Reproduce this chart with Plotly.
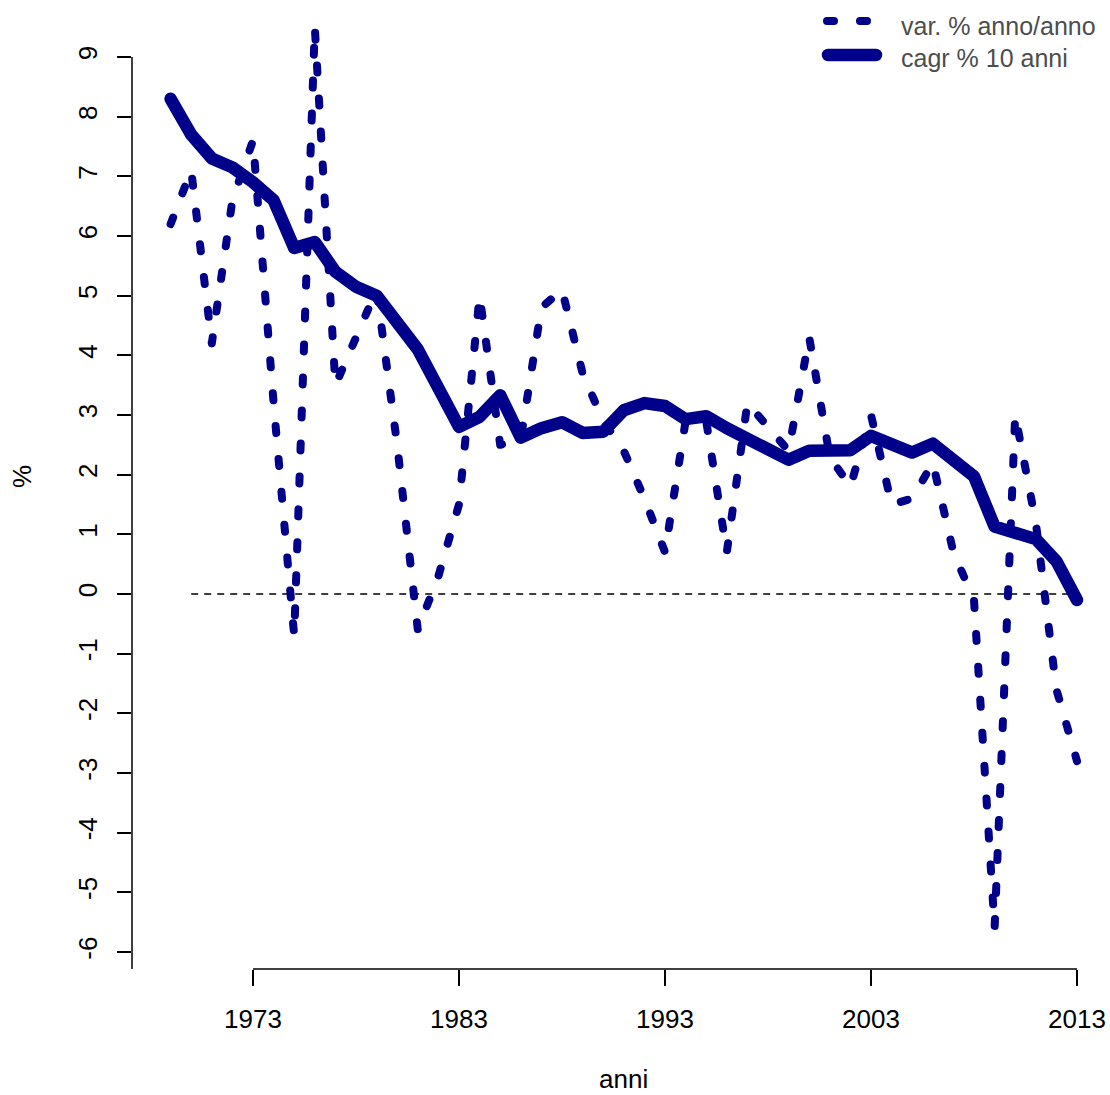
import plotly.graph_objects as go

# ---- data -----------------------------------------------------------------
years = list(range(1969, 2014))

# year-on-year % change
var_yoy = [6.2, 7.1, 4.2, 6.6, 7.6, 3.2, -0.7, 9.5, 3.5, 4.3,
           5.1, 2.5, -0.6, 0.3, 1.5, 5.0, 2.5, 2.6, 4.8, 5.1,
           3.7, 2.9, 2.4, 1.6, 0.7, 2.9, 2.9, 0.7, 3.2, 2.8,
           2.4, 4.3, 2.3, 1.8, 3.0, 1.5, 1.6, 2.2, 0.7, -0.1,
           -5.6, 3.0, 1.2, -1.6, -2.8]

# 10-year compound annual growth rate, %
cagr_10y = [8.3, 7.7, 7.3, 7.15, 6.9, 6.6, 5.8, 5.9, 5.4, 5.15,
            5.0, 4.55, 4.1, 3.45, 2.8, 2.97, 3.33, 2.62, 2.78, 2.88,
            2.7, 2.72, 3.08, 3.2, 3.15, 2.93, 2.98, 2.78, 2.6, 2.38,
            2.25, 2.4, 2.38, 2.41, 2.65, 2.52, 2.37, 2.52, 2.25, 1.97,
            1.13, 1.02, 0.92, 0.55, -0.1]

x_ticks = [1973, 1983, 1993, 2003, 2013]
y_ticks = list(range(-6, 10))
zero_line_years = [1970, 2013]

legend_labels = ["var. % anno/anno", "cagr % 10 anni"]
x_title = "anni"
y_title = "%"

# ---- geometry (pixels) ----------------------------------------------------
W, H = 1110, 1095
L, B = 132, 969            # left edge of plot, bottom edge of plot
PX_YEAR = 20.6             # pixels per year
X_REF_YEAR, X_REF_PX = 1973, 253
PX_UNIT = 59.667           # pixels per percentage point
Y_ZERO_PX = 594

x_range = [X_REF_YEAR - (X_REF_PX - L) / PX_YEAR,
           X_REF_YEAR + (W - X_REF_PX) / PX_YEAR]
y_range = [-(B - Y_ZERO_PX) / PX_UNIT, Y_ZERO_PX / PX_UNIT]


def px_x(p):
    return (p - L) / (W - L)


def px_y(p):
    return (B - p) / B


BLUE = "#00008B"
FONT = "Liberation Sans, Arial, Helvetica, sans-serif"

fig = go.Figure()

fig.add_trace(go.Scatter(
    x=years, y=var_yoy, mode="lines",
    line=dict(color=BLUE, width=8, dash="7px,26px"),
    showlegend=False, hoverinfo="skip"))

fig.add_trace(go.Scatter(
    x=years, y=cagr_10y, mode="lines",
    line=dict(color=BLUE, width=12.5),
    showlegend=False, hoverinfo="skip"))

# legend keys drawn on an overlay axis in plot-fraction units
fig.add_trace(go.Scatter(
    x=[px_x(827), px_x(880)], y=[px_y(21), px_y(21)],
    xaxis="x2", yaxis="y2", mode="lines",
    line=dict(color=BLUE, width=8, dash="7px,26px"),
    showlegend=False, hoverinfo="skip"))
fig.add_trace(go.Scatter(
    x=[px_x(828), px_x(876)], y=[px_y(55), px_y(55)],
    xaxis="x2", yaxis="y2", mode="lines",
    line=dict(color=BLUE, width=12.5),
    showlegend=False, hoverinfo="skip"))

shapes = [
    # zero reference line
    dict(type="line", xref="x", yref="y",
         x0=zero_line_years[0], x1=zero_line_years[1], y0=0, y1=0,
         line=dict(color="black", width=1.5, dash="7px,6px"), layer="below"),
    # x axis line
    dict(type="line", xref="x", yref="paper",
         x0=x_ticks[0], x1=x_ticks[-1], y0=0, y1=0,
         line=dict(color="black", width=1.5)),
    # y axis line
    dict(type="line", xref="paper", yref="y",
         x0=0, x1=0, y0=y_ticks[-1], y1=y_range[0],
         line=dict(color="black", width=1.5)),
]

annotations = [
    dict(text=x_title, xref="paper", yref="paper",
         x=px_x(623), y=px_y(1095), xanchor="center", yanchor="bottom",
         borderpad=0, showarrow=False,
         font=dict(size=26, color="black", family=FONT)),
    dict(text=y_title, xref="paper", yref="paper",
         x=px_x(22), y=px_y(477), xanchor="center", yanchor="middle",
         textangle=-90, showarrow=False,
         font=dict(size=26, color="black", family=FONT)),
    dict(text=legend_labels[0], xref="paper", yref="paper",
         x=px_x(899), y=px_y(26), xanchor="left", yanchor="middle",
         showarrow=False, font=dict(size=25, color="#4d4d4d", family=FONT)),
    dict(text=legend_labels[1], xref="paper", yref="paper",
         x=px_x(899), y=px_y(58), xanchor="left", yanchor="middle",
         showarrow=False, font=dict(size=25, color="#4d4d4d", family=FONT)),
]

fig.update_layout(
    width=W, height=H,
    margin=dict(l=L, r=0, t=0, b=H - B, pad=0),
    paper_bgcolor="white", plot_bgcolor="white",
    font=dict(family=FONT, size=26, color="black"),
    shapes=shapes, annotations=annotations,
    xaxis=dict(range=x_range, showgrid=False, zeroline=False, showline=False,
               tickmode="array", tickvals=x_ticks,
               ticktext=[str(t) for t in x_ticks],
               ticks="outside", ticklen=16, tickwidth=1.5, tickcolor="black",
               ticklabelstandoff=11,
               tickfont=dict(size=26, color="black", family=FONT),
               fixedrange=True),
    yaxis=dict(range=y_range, showgrid=False, zeroline=False, showline=False,
               tickmode="array", tickvals=y_ticks,
               ticktext=[str(t) for t in y_ticks],
               ticks="outside", ticklen=14, tickwidth=1.5, tickcolor="black",
               tickangle=-90, ticklabelstandoff=10,
               tickfont=dict(size=26, color="black", family=FONT),
               fixedrange=True),
    xaxis2=dict(range=[0, 1], overlaying="x", visible=False, fixedrange=True),
    yaxis2=dict(range=[0, 1], overlaying="y", visible=False, fixedrange=True),
)

round_caps = (
    "var s=document.createElement('style');"
    "s.textContent='.scatterlayer .js-line{stroke-linecap:round !important;"
    "stroke-linejoin:round !important;}';"
    "document.head.appendChild(s);"
)

fig.write_html("out.html", config={"displayModeBar": False},
               post_script=round_caps)
